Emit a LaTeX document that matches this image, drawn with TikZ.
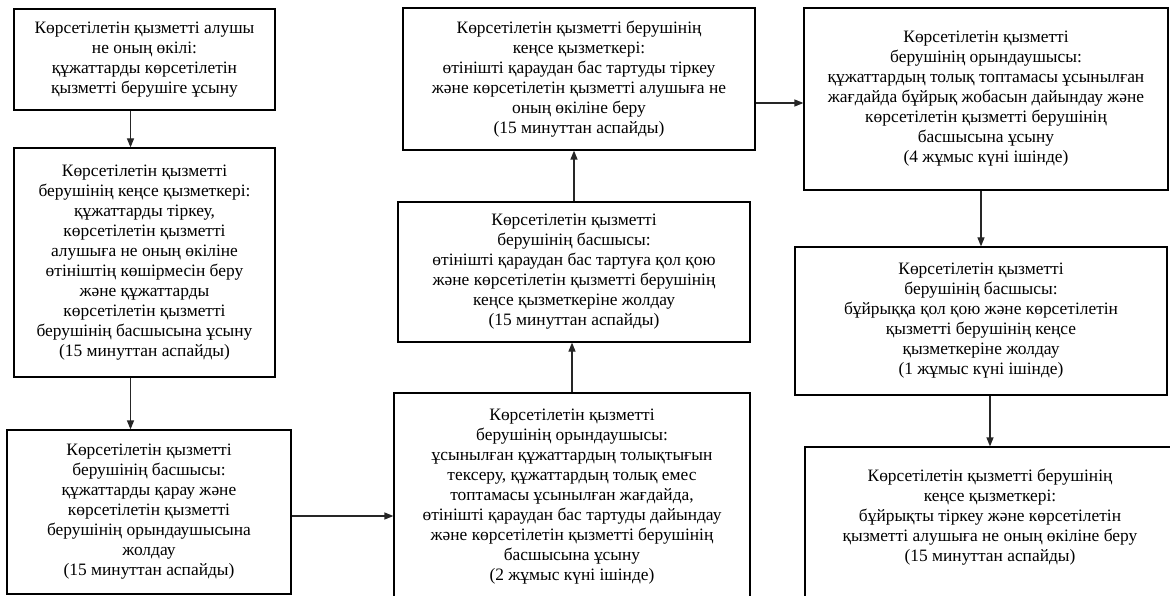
\documentclass[tikz,border=0pt]{standalone}
\usepackage{fontspec}
\setmainfont{Liberation Serif}
\usepackage{tikz}
\usetikzlibrary{arrows.meta}

\begin{document}
\begin{tikzpicture}[x=1pt, y=-1pt, >={Triangle[length=9pt,width=7pt]},
    box/.style={draw, line width=1.2pt, align=center, inner sep=2pt,
        font=\fontsize{17.4}{20}\selectfont},
    arr/.style={->, line width=1.2pt, draw=black!85}]
    \clip (0,0) rectangle (1170,596);
    % left column
    \node[box, minimum width=261, minimum height=101] (alushy) at (144.5,59.5)
        {Көрсетілетін қызметті алушы\\не оның өкілі:\\құжаттарды көрсетілетін\\қызметті берушіге ұсыну};
    \node[box, minimum width=261, minimum height=229] (kense) at (144.5,262.5)
        {Көрсетілетін қызметті\\берушінің кеңсе қызметкері:\\құжаттарды тіркеу,\\көрсетілетін қызметті\\алушыға не оның өкіліне\\өтініштің көшірмесін беру\\және құжаттарды\\көрсетілетін қызметті\\берушінің басшысына ұсыну\\(15 минуттан аспайды)};
    \node[box, minimum width=284, minimum height=164] (basshy) at (149,512)
        {Көрсетілетін қызметті\\берушінің басшысы:\\құжаттарды қарау және\\көрсетілетін қызметті\\берушінің орындаушысына\\жолдау\\(15 минуттан аспайды)};
    % middle column
    \node[box, minimum width=356, minimum height=207] (oryndau) at (572,496.5)
        {Көрсетілетін қызметті\\берушінің орындаушысы:\\ұсынылған құжаттардың толықтығын\\тексеру, құжаттардың толық емес\\топтамасы ұсынылған жағдайда,\\өтінішті қараудан бас тартуды дайындау\\және көрсетілетін қызметті берушінің\\басшысына ұсыну\\(2 жұмыс күні ішінде)};
    \node[box, minimum width=352, minimum height=140] (basshyb) at (574,272)
        {Көрсетілетін қызметті\\берушінің басшысы:\\өтінішті қараудан бас тартуға қол қою\\және көрсетілетін қызметті берушінің\\кеңсе қызметкеріне жолдау\\(15 минуттан аспайды)};
    \node[box, minimum width=352, minimum height=142] (kenseb) at (579,79)
        {Көрсетілетін қызметті берушінің\\кеңсе қызметкері:\\өтінішті қараудан бас тартуды тіркеу\\және көрсетілетін қызметті алушыға не\\оның өкіліне беру\\(15 минуттан аспайды)};
    % right column
    \node[box, minimum width=364, minimum height=182] (oryndauc) at (986,99)
        {Көрсетілетін қызметті\\берушінің орындаушысы:\\құжаттардың толық топтамасы ұсынылған\\жағдайда бұйрық жобасын дайындау және\\көрсетілетін қызметті берушінің\\басшысына ұсыну\\(4 жұмыс күні ішінде)};
    \node[box, minimum width=372, minimum height=148] (basshyc) at (981,321)
        {Көрсетілетін қызметті\\берушінің басшысы:\\бұйрыққа қол қою және көрсетілетін\\қызметті берушінің кеңсе\\қызметкеріне жолдау\\(1 жұмыс күні ішінде)};
    \node[box, minimum width=370, minimum height=156] (kensec) at (990,525)
        {Көрсетілетін қызметті берушінің\\кеңсе қызметкері:\\бұйрықты тіркеу және көрсетілетін\\қызметті алушыға не оның өкіліне беру\\(15 минуттан аспайды)\\~};
    % arrows
    \draw[arr] ([xshift=-14pt]alushy.south) -- ([xshift=-14pt]alushy.south |- kense.north);
    \draw[arr] ([xshift=-14pt]kense.south) -- ([xshift=-14pt]kense.south |- basshy.north);
    \draw[arr] ([yshift=-4pt]basshy.east) -- ([yshift=-4pt]basshy.east -| oryndau.west);
    \draw[arr] (oryndau.north) -- (oryndau.north |- basshyb.south);
    \draw[arr] (basshyb.north) -- (basshyb.north |- kenseb.south);
    \draw[arr] ([yshift=-24pt]kenseb.east) -- ([yshift=-24pt]kenseb.east -| oryndauc.west);
    \draw[arr] (basshyc.north |- oryndauc.south) -- (basshyc.north);
    \draw[arr] (kensec.north |- basshyc.south) -- (kensec.north);
\end{tikzpicture}
\end{document}
